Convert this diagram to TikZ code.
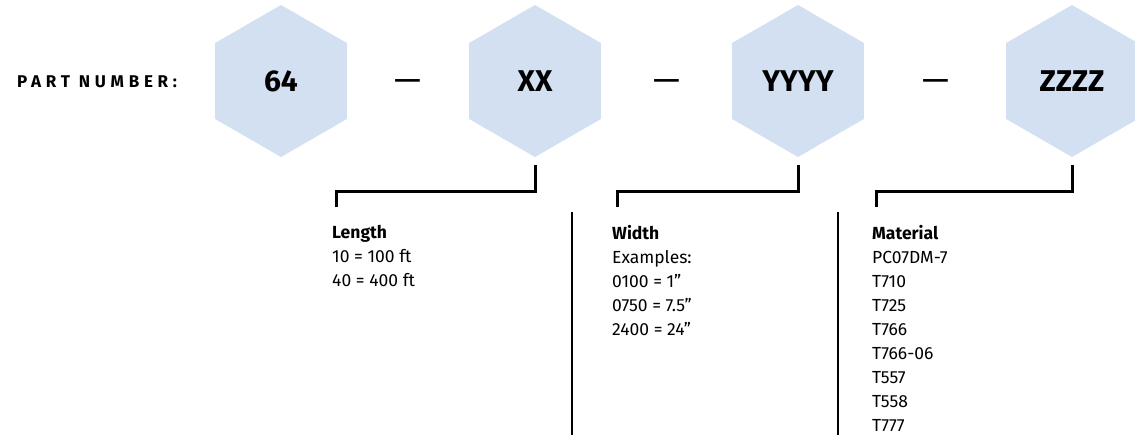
\documentclass[tikz,border=0pt]{standalone}
\usepackage{fontspec}
\setmainfont{Fira Sans}
\usetikzlibrary{shapes.geometric,calc}
\definecolor{hexblue}{RGB}{211,224,241}
\tikzset{
  hexa/.style={regular polygon, regular polygon sides=6, shape border rotate=30,
    minimum size=152pt, inner sep=0pt, outer sep=0pt, fill=hexblue,
    font=\bfseries\fontsize{30}{30}\selectfont},
  dashsep/.style={font=\fontsize{34}{34}\selectfont, inner sep=0pt},
  info/.style={anchor=north west, align=left, inner sep=0pt,
    font=\fontsize{17.5}{24}\selectfont},
  bracket/.style={line width=3pt},
  divider/.style={line width=1.5pt},
}
\begin{document}
\begin{tikzpicture}[x=1pt,y=-1pt]
\useasboundingbox (0,0) rectangle (1135,435);
\node[anchor=base west, inner sep=0pt, font=\bfseries\fontsize{17}{17}\selectfont\addfontfeature{LetterSpace=28}] (pn) at (17,88) {PART NUMBER:};
\node[hexa] (h1) at (281,81) {64};
\node[hexa] (h2) at (535,81) {XX};
\node[hexa] (h3) at (798,81) {YYYY};
\node[hexa] (h4) at (1072,81) {ZZZZ};
\node[dashsep] (d1) at (408,86) {—};
\node[dashsep] (d2) at (667,86) {—};
\node[dashsep] (d3) at (936,86) {—};
\node[info] (len) at (332,225) {\textbf{Length}\\10 = 100 ft\\40 = 400 ft};
\node[info] (wid) at (612,225) {\textbf{Width}\\Examples:\\0100 = 1"\\0750 = 7.5"\\2400 = 24"};
\node[info] (mat) at (872,225) {\textbf{Material}\\PC07DM-7\\T710\\T725\\T766\\T766-06\\T557\\T558\\T777};
\coordinate (b2) at ($(h2.south)+(0,8)$);
\coordinate (b3) at ($(h3.south)+(0,8)$);
\coordinate (b4) at ($(h4.south)+(0,8)$);
\coordinate (e2) at (336,207);
\coordinate (e3) at (617,207);
\coordinate (e4) at (876,207);
\draw[bracket] (b2) |- ($(e2)+(0,-15)$) -- (e2);
\draw[bracket] (b3) |- ($(e3)+(0,-15)$) -- (e3);
\draw[bracket] (b4) |- ($(e4)+(0,-15)$) -- (e4);
\coordinate (s1) at (572,212);
\coordinate (s1e) at (572,435);
\coordinate (s2) at (838,212);
\coordinate (s2e) at (838,435);
\draw[divider] (s1) -- (s1e);
\draw[divider] (s2) -- (s2e);
\end{tikzpicture}
\end{document}
